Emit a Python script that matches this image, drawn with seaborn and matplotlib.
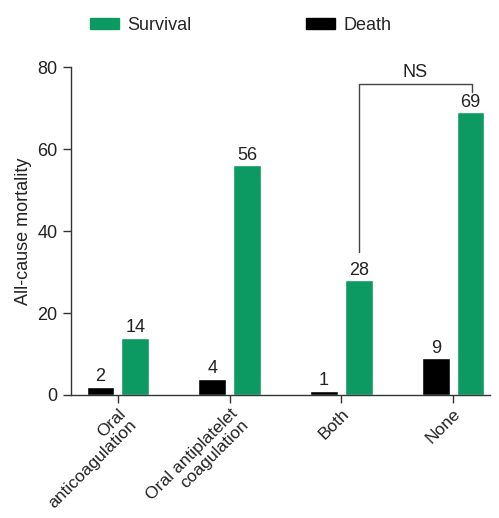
import matplotlib
matplotlib.use("Agg")
import matplotlib.pyplot as plt
import matplotlib.patches as mpatches
import seaborn as sns
import pandas as pd

categories = ["Oral\nanticoagulation", "Oral antiplatelet\ncoagulation", "Both", "None"]
death = [2, 4, 1, 9]
survival = [14, 56, 28, 69]
groups = ["Death", "Survival"]
colors = {"Death": "#000000", "Survival": "#0c9a62"}
y_ticks = [0, 20, 40, 60, 80]

df = pd.DataFrame({
    "category": categories * 2,
    "group": ["Death"] * len(categories) + ["Survival"] * len(categories),
    "value": death + survival,
})

FS = 13

sns.set_style("ticks")
plt.rcParams["font.family"] = ["Liberation Sans", "DejaVu Sans"]
plt.rcParams["font.size"] = FS

fig = plt.figure(figsize=(4.99, 5.18), dpi=100)
ax = fig.add_axes([0.142, 0.2375, 0.84, 0.633])

sns.barplot(data=df, x="category", y="value", hue="group", hue_order=groups,
            order=categories, palette=colors, width=0.62, gap=0.2,
            saturation=1, legend=False, ax=ax)

for cont in ax.containers:
    ax.bar_label(cont, padding=1, fontsize=FS, color="#222222")

ax.set_ylim(0, 80)
ax.set_yticks(y_ticks)
ax.set_xlim(-0.42, 3.33)
ax.set_xlabel("")
ax.set_ylabel("All-cause mortality", fontsize=FS, color="#222222", labelpad=4)
sns.despine(ax=ax, top=True, right=True)
for s in ["left", "bottom"]:
    ax.spines[s].set_color("#333333")
    ax.spines[s].set_linewidth(1.0)
ax.tick_params(axis="both", colors="#333333", labelcolor="#222222",
               length=6, width=1.0, labelsize=FS)
ax.tick_params(axis="x", pad=2, labelsize=12.6)
ax.set_xticks(range(len(categories)))
ax.set_xticklabels(categories, rotation=45, ha="right", rotation_mode="anchor",
                   multialignment="right", linespacing=1.1)

# significance bracket between the "Both" and "None" survival bars
bx = [2.155, 2.155, 3.165, 3.165]
by = [35, 75.9, 75.9, 73.9]
ax.plot(bx, by, color="#444444", lw=1.0, clip_on=False)
ax.text((bx[0] + bx[2]) / 2, 76.6, "NS", ha="center", va="bottom",
        fontsize=FS, color="#222222")

handles = [mpatches.Patch(color=colors["Survival"], label="Survival"),
           mpatches.Patch(color=colors["Death"], label="Death")]
fig.legend(handles=handles, loc="center", bbox_to_anchor=(0.482, 0.951), ncol=2,
           frameon=False, fontsize=FS, handlelength=1.65, handleheight=0.5,
           columnspacing=6.3, handletextpad=0.45)

fig.savefig("out.png", dpi=100)
